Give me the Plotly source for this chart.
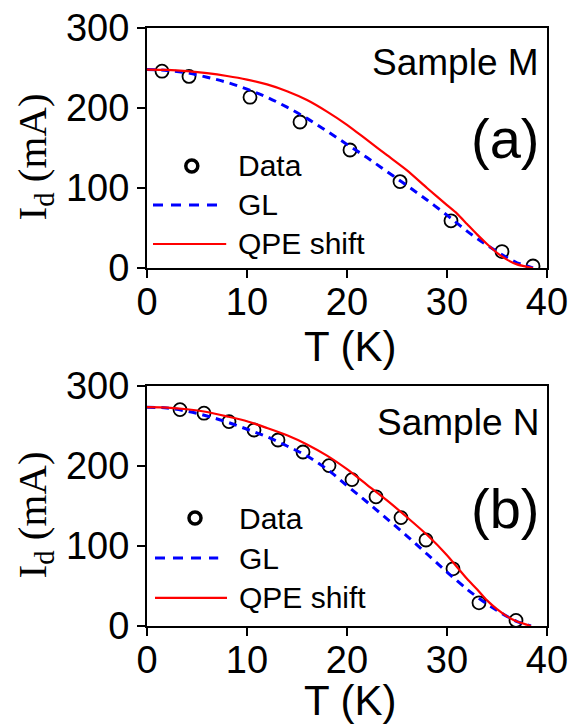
import plotly.graph_objects as go

# ---------------- data ----------------
# Panel (a): Sample M
T_data_M = [1.5, 4.2, 10.3, 15.3, 20.3, 25.3, 30.4, 35.5, 38.6]
I_data_M = [246, 239.5, 213.5, 182.5, 147.5, 108, 59, 20.5, 2.5]

T_fit_M = [0, 2, 4, 6, 8, 10, 12, 14, 16, 18, 20, 22, 24, 26, 28, 30, 31, 32, 33, 34, 35, 36, 37, 38, 38.6]
I_GL_M = [248, 247, 244, 238.5, 232, 223.5, 213.5, 201, 187, 171, 154.5, 138, 120.5, 103, 85, 66, 56, 46, 37, 28.5, 20.5, 13, 6.5, 2.5, 0]
I_QPE_M = [248, 247.6, 246, 243.5, 240, 235.5, 229.5, 221, 210, 195.5, 179, 160, 141, 122, 100, 78.5, 68, 55, 42, 30, 19, 10.5, 4.5, 1.5, 0]

# Panel (b): Sample N
T_data_N = [3.3, 5.7, 8.2, 10.7, 13.1, 15.6, 18.2, 20.5, 22.9, 25.4, 27.9, 30.6, 33.2, 36.9]
I_data_N = [270.5, 266, 255.5, 245, 232.5, 217.5, 200.5, 183, 161.5, 135.5, 107.5, 71.5, 29, 7]

T_fit_N = [0, 2, 4, 6, 8, 10, 12, 14, 16, 18, 20, 22, 24, 26, 28, 30, 32, 33, 34, 35, 36, 37, 38, 38.4]
I_GL_N = [273.5, 272.5, 268.5, 262.5, 255, 246, 236.5, 225, 212.5, 196, 175.5, 155, 134, 112.5, 90, 67.5, 46, 36.5, 27.5, 19.5, 12, 5.5, 1.5, 0]
I_QPE_N = [273.5, 273, 271, 267.5, 262, 256, 247.5, 238.5, 227, 213, 196, 176.5, 157, 136, 114, 88.5, 59, 46, 32, 21, 12, 5.5, 1.5, 0]

x_ticks = [0, 10, 20, 30, 40]
y_ticks = [0, 100, 200, 300]
legend_labels = ["Data", "GL", "QPE shift"]
panel_names = ["Sample M", "Sample N"]
panel_tags = ["(a)", "(b)"]
x_title = "T (K)"
y_title = "I<sub>d</sub> (mA)"

# ---------------- figure ----------------
SANS = "Liberation Sans, Arial, sans-serif"
SERIF = "Liberation Serif, Times New Roman, serif"

fig = go.Figure()

panels = [
    (T_data_M, I_data_M, T_fit_M, I_GL_M, I_QPE_M, "x", "y"),
    (T_data_N, I_data_N, T_fit_N, I_GL_N, I_QPE_N, "x2", "y2"),
]
for td, idat, tf, igl, iqpe, xa, ya in panels:
    fig.add_trace(go.Scatter(x=td, y=idat, mode="markers", xaxis=xa, yaxis=ya,
                             marker=dict(symbol="circle-open", size=13, color="black",
                                         line=dict(width=1.8, color="black"))))
    fig.add_trace(go.Scatter(x=tf, y=igl, mode="lines", xaxis=xa, yaxis=ya,
                             line=dict(color="#0000FF", width=3, dash="8px,6px", shape="spline")))
    fig.add_trace(go.Scatter(x=tf, y=iqpe, mode="lines", xaxis=xa, yaxis=ya,
                             line=dict(color="#FF0000", width=2.2, shape="spline", smoothing=0.6)))

axis_common = dict(
    showline=True, linecolor="black", linewidth=2, mirror=True,
    ticks="outside", ticklen=8, tickwidth=2, tickcolor="black",
    showgrid=False, zeroline=False, automargin=False,
    tickfont=dict(family=SANS, size=38, color="black"),
)

top_dom = [0.5987, 1.0]
bot_dom = [0.0, 0.4013]

fig.update_layout(
    width=580, height=725,
    margin=dict(l=147, r=33, t=28, b=99, autoexpand=False),
    paper_bgcolor="white", plot_bgcolor="white",
    showlegend=False,
    xaxis=dict(range=[0, 40], tickvals=x_ticks, domain=[0, 1], anchor="y",
               ticklabelstandoff=-9, **axis_common),
    yaxis=dict(range=[0, 300], tickvals=y_ticks, domain=top_dom, anchor="x", **axis_common),
    xaxis2=dict(range=[0, 40], tickvals=x_ticks, domain=[0, 1], anchor="y2",
                ticklabelstandoff=-9, **axis_common),
    yaxis2=dict(range=[0, 300], tickvals=y_ticks, domain=bot_dom, anchor="x2", **axis_common),
)

annotations = []
shapes = []

# axis titles (as annotations for precise placement)
for k, (xc_title_y, yc_title_y) in enumerate([(346, 157.5), (700, 515.5)]):
    annotations.append(dict(text=x_title, xref="paper", yref="paper",
                            x=(350 - 147) / 400, y=(626 - xc_title_y) / 598,
                            xanchor="center", yanchor="middle", showarrow=False,
                            font=dict(family=SANS, size=42, color="black")))
    annotations.append(dict(text=y_title, xref="paper", yref="paper",
                            x=(34 - 147) / 400, y=(626 - yc_title_y) / 598,
                            xanchor="center", yanchor="middle", showarrow=False, textangle=-90,
                            font=dict(family=SERIF, size=41, color="black")))

# panel labels and custom legends
legend_rows = [[0.425, 0.2625, 0.10], [0.45, 0.283, 0.117]]
legend_circle_x = [0.112, 0.12]
legend_line_x0 = [0.015, 0.02]
legend_gl_x1 = [0.175, 0.178]
legend_qpe_x1 = [0.198, 0.20]
legend_text_x = [0.222, 0.226]
name_y = [0.858, 0.85]
tag_y = [0.54, 0.49]

for k, (xa, ya) in enumerate([("x", "y"), ("x2", "y2")]):
    xd, yd = xa + " domain", ya + " domain"
    annotations.append(dict(text=panel_names[k], xref=xd, yref=yd, x=0.985, y=name_y[k],
                            xanchor="right", yanchor="middle", showarrow=False,
                            font=dict(family=SANS, size=37, color="black")))
    annotations.append(dict(text=panel_tags[k], xref=xd, yref=yd, x=0.985, y=tag_y[k],
                            xanchor="right", yanchor="middle", showarrow=False,
                            font=dict(family=SANS, size=56, color="black")))
    rows = legend_rows[k]
    for lab, ry in zip(legend_labels, rows):
        annotations.append(dict(text=lab, xref=xd, yref=yd, x=legend_text_x[k], y=ry,
                                xanchor="left", yanchor="middle", showarrow=False,
                                font=dict(family=SANS, size=30, color="black")))
    shapes.append(dict(type="circle", xref=xd, yref=yd,
                       xsizemode="pixel", ysizemode="pixel",
                       xanchor=legend_circle_x[k], yanchor=rows[0],
                       x0=-6, x1=6, y0=-6, y1=6,
                       line=dict(color="black", width=3.5)))
    shapes.append(dict(type="line", xref=xd, yref=yd,
                       x0=legend_line_x0[k], x1=legend_gl_x1[k], y0=rows[1], y1=rows[1],
                       line=dict(color="#0000FF", width=3, dash="10px,8px")))
    shapes.append(dict(type="line", xref=xd, yref=yd,
                       x0=legend_line_x0[k], x1=legend_qpe_x1[k], y0=rows[2], y1=rows[2],
                       line=dict(color="#FF0000", width=2.2)))

fig.update_layout(annotations=annotations, shapes=shapes)

fig.write_html("out.html", config={"displayModeBar": False},
               post_script="document.body.style.margin='0px';document.body.style.overflow='hidden';")
